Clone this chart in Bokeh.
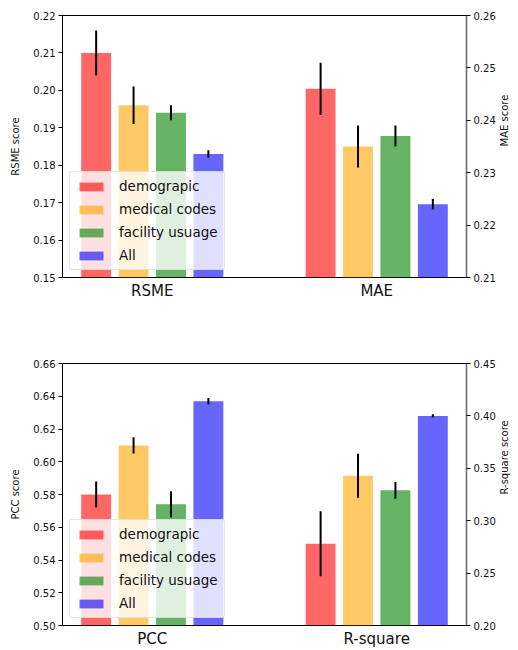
import math
from bokeh.plotting import figure
from bokeh.models import (Range1d, LinearAxis, FixedTicker, ColumnDataSource, Legend,
                          LegendItem, PrintfTickFormatter)
from bokeh.layouts import column
from bokeh.embed import file_html
from bokeh.resources import INLINE

# ---------------- data ----------------
FEATURE_SETS = ["demograpic", "medical codes", "facility usuage", "All"]
BAR_COLORS = ["red", "orange", "green", "blue"]

TOP_METRICS = ["RSME", "MAE"]
RSME_MEAN = [0.210, 0.196, 0.194, 0.183]
RSME_ERR = [0.006, 0.005, 0.002, 0.001]
MAE_MEAN = [0.246, 0.235, 0.237, 0.224]
MAE_ERR = [0.005, 0.004, 0.002, 0.001]
RSME_TICKS = [0.15, 0.16, 0.17, 0.18, 0.19, 0.20, 0.21, 0.22]
MAE_TICKS = [0.21, 0.22, 0.23, 0.24, 0.25, 0.26]

BOTTOM_METRICS = ["PCC", "R-square"]
PCC_MEAN = [0.580, 0.610, 0.574, 0.637]
PCC_ERR = [0.008, 0.005, 0.008, 0.002]
RSQ_MEAN = [0.278, 0.343, 0.329, 0.400]
RSQ_ERR = [0.031, 0.021, 0.008, 0.0015]
PCC_TICKS = [0.50, 0.52, 0.54, 0.56, 0.58, 0.60, 0.62, 0.64, 0.66]
RSQ_TICKS = [0.20, 0.25, 0.30, 0.35, 0.40, 0.45]

FONT = "DejaVu Sans"
BAR_ALPHA = 0.6
N = len(FEATURE_SETS)
GROUP_STEP = N + 2


def style_axis(ax, standoff_label):
    ax.major_tick_out = 4
    ax.major_tick_in = 0
    ax.minor_tick_out = 0
    ax.minor_tick_in = 0
    ax.major_tick_line_color = "black"
    ax.major_label_text_font = FONT
    ax.major_label_text_font_size = "10px"
    ax.major_label_text_color = "#111111"
    ax.major_label_standoff = 3
    ax.axis_label_text_font = FONT
    ax.axis_label_text_font_size = "10px"
    ax.axis_label_text_font_style = "normal"
    ax.axis_label_text_color = "#111111"
    ax.axis_label_standoff = standoff_label


def make_panel(metrics, lmean, lerr, rmean, rerr, lticks, rticks, llabel, rlabel,
               height, btop, bbottom):
    p = figure(width=518, height=height, output_backend="svg", toolbar_location=None,
               x_range=Range1d(-0.9, GROUP_STEP + N - 0.1),
               y_range=Range1d(lticks[0], lticks[-1]),
               min_border_left=62, min_border_right=49,
               min_border_top=btop, min_border_bottom=bbottom)
    p.extra_y_ranges = {"right": Range1d(rticks[0], rticks[-1])}
    p.xgrid.visible = False
    p.ygrid.visible = False
    p.outline_line_color = "black"
    p.outline_line_width = 1
    p.background_fill_color = "white"
    p.border_fill_color = "white"

    renderers = []
    for g, (means, errs, rname) in enumerate([(lmean, lerr, "default"), (rmean, rerr, "right")]):
        xs = [g * GROUP_STEP + k for k in range(N)]
        src = ColumnDataSource(dict(
            x=xs, top=means,
            lo=[m - e for m, e in zip(means, errs)],
            hi=[m + e for m, e in zip(means, errs)],
            color=BAR_COLORS, label=FEATURE_SETS))
        bottom = lticks[0] if g == 0 else rticks[0]
        r = p.vbar(x="x", top="top", bottom=bottom, width=0.8, source=src,
                   fill_color="color", fill_alpha=BAR_ALPHA, line_color=None,
                   y_range_name=rname)
        p.segment(x0="x", y0="lo", x1="x", y1="hi", source=src, line_color="black",
                  line_width=2, y_range_name=rname)
        renderers.append(r)

    # x axis: group names
    label_x = [g * GROUP_STEP + (N - 1) / 2 for g in range(len(metrics))]
    p.xaxis.ticker = FixedTicker(ticks=label_x)
    p.xaxis.major_label_overrides = {x: m for x, m in zip(label_x, metrics)}
    p.xaxis.major_tick_line_color = None
    p.xaxis.minor_tick_line_color = None
    p.xaxis.major_tick_out = 0
    p.xaxis.major_tick_in = 0
    p.xaxis.minor_tick_out = 0
    p.xaxis.minor_tick_in = 0
    p.xaxis.axis_line_color = None
    p.xaxis.major_label_text_font = FONT
    p.xaxis.major_label_text_font_size = "15px"
    p.xaxis.major_label_text_color = "#111111"
    p.xaxis.major_label_standoff = 4

    # left axis
    la = p.yaxis[0]
    la.ticker = FixedTicker(ticks=lticks)
    la.formatter = PrintfTickFormatter(format="%.2f")
    la.axis_label = llabel
    la.axis_line_color = "black"
    style_axis(la, 9)

    # right axis
    ra = LinearAxis(y_range_name="right", ticker=FixedTicker(ticks=rticks),
                    formatter=PrintfTickFormatter(format="%.2f"), axis_label=rlabel)
    style_axis(ra, 6)
    ra.axis_line_color = "#666666"
    ra.axis_line_width = 1.5
    if "axis_label_orientation" in LinearAxis.properties():
        ra.axis_label_orientation = math.pi / 2
    p.add_layout(ra, "right")

    items = [LegendItem(label=FEATURE_SETS[k], renderers=[renderers[0]], index=k)
             for k in range(N)]
    leg = Legend(items=items, location="bottom_left")
    leg.margin = 7
    leg.padding = 6
    leg.spacing = 7
    leg.glyph_width = 30
    leg.glyph_height = 11
    leg.label_height = 14
    leg.label_standoff = 13
    leg.label_text_font = FONT
    leg.label_text_font_size = "13.5px"
    leg.label_text_color = "#111111"
    leg.border_line_color = "#cccccc"
    leg.border_line_width = 1
    leg.background_fill_color = "white"
    leg.background_fill_alpha = 0.8
    if "border_radius" in Legend.properties():
        leg.border_radius = 3
    p.add_layout(leg)
    return p


p1 = make_panel(TOP_METRICS, RSME_MEAN, RSME_ERR, MAE_MEAN, MAE_ERR, RSME_TICKS, MAE_TICKS,
                "RSME score", "MAE score", 320, 15, 43)
p2 = make_panel(BOTTOM_METRICS, PCC_MEAN, PCC_ERR, RSQ_MEAN, RSQ_ERR, PCC_TICKS, RSQ_TICKS,
                "PCC score", "R-square score", 330, 43, 25)

layout = column(p1, p2, spacing=0)
open("out.html", "w").write(file_html(layout, INLINE))
